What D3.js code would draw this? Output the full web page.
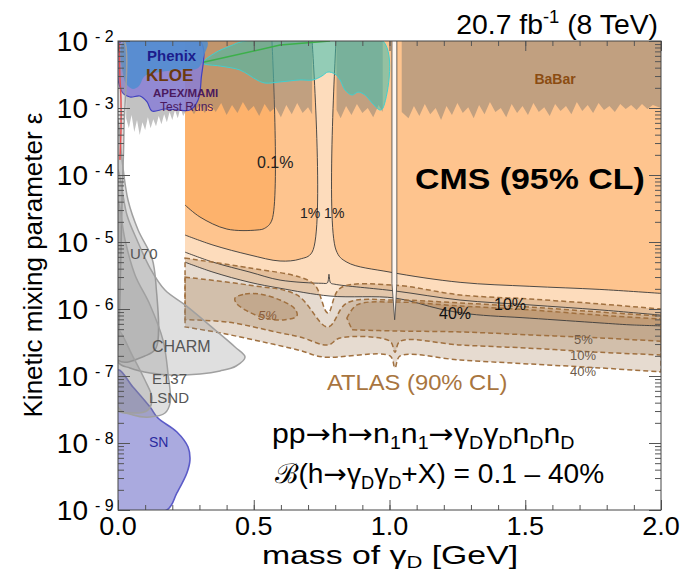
<!DOCTYPE html>
<html>
<head>
<meta charset="utf-8">
<script src="https://cdn.jsdelivr.net/npm/d3@7"></script>
<style>
  body { margin: 0; background: #fff; }
  svg { display: block; font-family: "Liberation Sans", Arial, sans-serif; }
</style>
</head>
<body>
<script>
// Step 1: data (mass of gamma_D in GeV, kinetic mixing epsilon)
//= ================================
var xTickValues = [0, 0.5, 1.0, 1.5, 2.0];
var xTickLabels = ["0.0", "0.5", "1.0", "1.5", "2.0"];
var yTickValues = [1e-2, 1e-3, 1e-4, 1e-5, 1e-6, 1e-7, 1e-8, 1e-9];
var yTickExponents = ["2", "3", "4", "5", "6", "7", "8", "9"];

// CMS solid contours
var cms01Line = [[0.567, 1e-2], [0.567, 2.13e-5], [0.540, 1.6e-5], [0.512, 1.51e-5], [0.401, 1.56e-5], [0.302, 2.36e-5], [0.247, 3.56e-5]];
var cms1LeftLine = [[0.715, 1e-2], [0.715, 7.06e-6], [0.670, 5.56e-6], [0.597, 5.2e-6], [0.486, 6.4e-6], [0.350, 9.0e-6], [0.247, 1.27e-5]];
var cms1RightLine = [[0.803, 1e-2], [0.803, 7.6e-6], [0.843, 5.0e-6], [1.002, 3.55e-6], [1.260, 2.5e-6], [1.517, 2.18e-6], [1.775, 1.96e-6], [2.0, 1.71e-6]];
var cms10Line = [[0.247, 7.06e-6], [0.350, 5.0e-6], [0.486, 3.55e-6], [0.597, 2.7e-6], [0.751, 2.42e-6], [0.771, 2.45e-6], [0.777, 3.3e-6], [0.783, 2.45e-6], [0.799, 2.34e-6], [1.020, 1.86e-6], [1.260, 1.36e-6], [1.517, 1.15e-6], [1.775, 9.7e-7], [2.0, 8.1e-7]];
var cms40Line = [[0.247, 5.0e-6], [0.350, 3.55e-6], [0.486, 2.5e-6], [0.597, 2.04e-6], [0.781, 1.56e-6], [1.020, 1.46e-6], [1.186, 1.0e-6], [1.297, 8.4e-7], [1.517, 7.3e-7], [1.775, 6.2e-7], [1.886, 5.8e-7], [2.0, 5.6e-7]];
var phiGap = [[1.009, 1e-2], [1.009, 2.42e-6], [1.016, 1.0e-6], [1.019, 6.9e-7], [1.022, 1.0e-6], [1.027, 2.42e-6], [1.027, 1e-2]];

// ATLAS dashed bands
var atlas40Upper = [[0.247, 5.76e-6], [0.486, 4.09e-6], [0.670, 2.99e-6], [0.726, 2.26e-6], [0.773, 8.7e-7], [0.818, 2.04e-6], [1.020, 2.26e-6], [1.260, 1.62e-6], [1.517, 1.41e-6], [1.775, 1.19e-6], [2.0, 1.0e-6]];
var atlas40Lower = [[0.247, 5.4e-7], [0.376, 4.4e-7], [0.523, 3.3e-7], [0.670, 2.4e-7], [0.755, 1.92e-7], [1.002, 1.99e-7], [1.020, 1.32e-7], [1.039, 1.99e-7], [1.260, 1.73e-7], [1.517, 1.51e-7], [1.775, 1.32e-7], [2.0, 1.15e-7]];
var atlas10Upper = [[0.247, 2.99e-6], [0.486, 2.26e-6], [0.659, 1.62e-6], [0.773, 5.4e-7], [0.843, 1.23e-6], [1.020, 1.36e-6], [1.260, 1.23e-6], [1.517, 1.07e-6], [1.775, 9.0e-7], [2.0, 7.87e-7]];
var atlas10Lower = [[0.247, 6.9e-7], [0.401, 6.4e-7], [0.597, 4.4e-7], [0.670, 3.83e-7], [0.773, 2.9e-7], [0.818, 3.7e-7], [1.002, 3.3e-7], [1.020, 2.26e-7], [1.039, 3.3e-7], [1.260, 2.9e-7], [1.517, 2.6e-7], [1.775, 2.26e-7], [2.0, 2.06e-7]];
var atlas5Island = [[0.431, 1.46e-6], [0.468, 1.67e-6], [0.523, 1.67e-6], [0.597, 1.36e-6], [0.652, 1.0e-6], [0.659, 7.87e-7], [0.615, 6.9e-7], [0.541, 7.3e-7], [0.468, 9.7e-7], [0.435, 1.23e-6]];
var atlas5Upper = [[0.843, 7.3e-7], [0.880, 1.15e-6], [1.020, 1.27e-6], [1.260, 1.11e-6], [1.517, 9.7e-7], [1.775, 8.1e-7], [2.0, 7.1e-7]];
var atlas5Lower = [[0.862, 4.9e-7], [1.020, 4.7e-7], [1.260, 4.55e-7], [1.517, 4.1e-7], [1.775, 3.7e-7], [2.0, 3.3e-7]];

// BaBar lower edge, three pieces
var babarLow1 = [[0.03, 7.06e-4], [0.04, 5.0e-4], [0.05, 7.85e-4], [0.06, 4.37e-4], [0.07, 6.6e-4], [0.08, 3.96e-4], [0.09, 6.15e-4], [0.10, 4.7e-4], [0.11, 7.3e-4], [0.12, 5.0e-4], [0.13, 6.8e-4], [0.14, 5.36e-4], [0.15, 7.6e-4], [0.16, 5.74e-4], [0.17, 8.1e-4], [0.18, 6.15e-4], [0.19, 8.7e-4], [0.20, 6.6e-4], [0.21, 9.33e-4], [0.22, 7.06e-4], [0.23, 1.0e-3], [0.24, 7.6e-4], [0.26, 1.07e-3], [0.28, 8.1e-4], [0.30, 1.11e-3], [0.32, 8.4e-4], [0.34, 1.15e-3], [0.36, 8.7e-4], [0.38, 1.19e-3], [0.40, 7.85e-4], [0.42, 1.11e-3], [0.44, 8.4e-4], [0.46, 1.23e-3], [0.48, 9.0e-4], [0.50, 1.07e-3], [0.52, 7.6e-4], [0.54, 1.15e-3], [0.56, 8.7e-4], [0.58, 1.03e-3], [0.60, 7.3e-4], [0.62, 1.11e-3], [0.64, 8.1e-4], [0.66, 1.19e-3], [0.68, 8.4e-4], [0.70, 1.03e-3], [0.715, 8.1e-4]];
var babarLow2 = [[0.805, 9.33e-4], [0.82, 7.06e-4], [0.84, 1.07e-3], [0.86, 7.85e-4], [0.88, 1.15e-3], [0.90, 8.4e-4], [0.92, 1.0e-3], [0.94, 7.3e-4], [0.96, 1.11e-3], [0.975, 8.7e-4]];
var babarLow3 = [[1.045, 8.7e-4], [1.07, 7.06e-4], [1.09, 1.07e-3], [1.11, 7.6e-4], [1.13, 1.15e-3], [1.15, 8.1e-4], [1.17, 1.0e-3], [1.19, 6.6e-4], [1.21, 1.07e-3], [1.23, 7.85e-4], [1.25, 1.19e-3], [1.27, 8.4e-4], [1.29, 1.03e-3], [1.31, 7.06e-4], [1.33, 1.11e-3], [1.35, 8.1e-4], [1.37, 1.23e-3], [1.39, 8.7e-4], [1.41, 1.0e-3], [1.43, 7.3e-4], [1.45, 1.15e-3], [1.47, 8.4e-4], [1.49, 1.07e-3], [1.51, 7.85e-4], [1.53, 1.19e-3], [1.55, 8.7e-4], [1.57, 1.03e-3], [1.59, 7.6e-4], [1.61, 1.15e-3], [1.63, 9.0e-4], [1.65, 1.07e-3], [1.67, 8.1e-4], [1.69, 1.23e-3], [1.71, 9.0e-4], [1.73, 1.11e-3], [1.75, 8.4e-4], [1.77, 1.19e-3], [1.79, 9.33e-4], [1.81, 1.07e-3], [1.83, 8.7e-4], [1.85, 1.15e-3], [1.87, 9.66e-4], [1.89, 1.11e-3], [1.91, 9.33e-4], [1.93, 1.15e-3], [1.95, 9.66e-4], [1.97, 1.11e-3], [2.0, 1.0e-3]];

// other experiments
var tealRegion = [[0.313, 4.69e-3], [0.357, 6.62e-3], [0.413, 8.4e-3], [0.468, 1e-2], [0.976, 1e-2], [0.976, 1.0e-3], [0.965, 9.33e-4], [0.936, 1.19e-3], [0.910, 1.56e-3], [0.884, 1.73e-3], [0.862, 1.56e-3], [0.836, 1.86e-3], [0.818, 2.62e-3], [0.799, 3.21e-3], [0.773, 3.44e-3], [0.751, 3.0e-3], [0.718, 2.62e-3], [0.670, 2.62e-3], [0.597, 2.45e-3], [0.541, 2.36e-3], [0.512, 2.62e-3], [0.449, 3.69e-3], [0.376, 4.23e-3]];
var greenLine = [[0.302, 4.69e-3], [0.597, 8.7e-3], [0.781, 1e-2]];
var apexRegion = [[0.011, 1e-2], [0.302, 1e-2], [0.306, 2.62e-3], [0.295, 1.32e-3], [0.265, 9.33e-4], [0.221, 9.33e-4], [0.173, 9.66e-4], [0.125, 9.0e-4], [0.107, 1.23e-3], [0.081, 1.51e-3], [0.044, 1.46e-3], [0.015, 1.73e-3]];
var phenixRegion = [[0.022, 1e-2], [0.022, 2.8e-3], [0.033, 2.2e-3], [0.055, 1.92e-3], [0.077, 2.13e-3], [0.099, 3.0e-3], [0.155, 3.44e-3], [0.228, 3.69e-3], [0.295, 3.95e-3], [0.317, 6.18e-3], [0.328, 1e-2]];
var redLine = [[0.004, 9.3e-3], [0.007, 3.0e-3], [0.011, 1.32e-3], [0.011, 4.7e-4], [0.007, 1.68e-4]];

var snRegion = [[0, 1.23e-7], [0.055, 6.86e-8], [0.118, 3.44e-8], [0.147, 2.36e-8], [0.217, 1.46e-8], [0.258, 8.7e-9], [0.265, 5.6e-9], [0.254, 3.6e-9], [0.217, 1.8e-9], [0.180, 1e-9], [0, 1e-9]];
var stripRegion = [[0, 1e-2], [0.022, 1e-2], [0.022, 4.7e-4], [0.015, 4.2e-5], [0.007, 1.36e-6], [0, 2.4e-7]];
var u70Region = [[0, 6.6e-4], [0.015, 1.68e-4], [0.037, 4.2e-5], [0.074, 1.51e-5], [0.125, 5.76e-6], [0.140, 2.26e-6], [0.140, 2.6e-7], [0.099, 1.99e-7], [0, 1.73e-7]];
var charmRegion = [[0, 1.19e-4], [0.033, 2.53e-5], [0.070, 1.07e-5], [0.118, 4.09e-6], [0.173, 1.92e-6], [0.247, 1.15e-6], [0.357, 4.9e-7], [0.431, 2.71e-7], [0.468, 1.92e-7], [0.435, 1.41e-7], [0.376, 1.19e-7], [0.302, 1.07e-7], [0.210, 1.03e-7], [0.118, 1.11e-7], [0.044, 1.32e-7], [0, 1.62e-7]];
var e137Region = [[0, 4.2e-5], [0.026, 1.07e-5], [0.063, 3.2e-6], [0.118, 1.15e-6], [0.166, 3.4e-7], [0.184, 1.11e-7], [0.192, 3.96e-8], [0.173, 2.8e-8], [0.118, 2.44e-8], [0.055, 2.62e-8], [0, 3.44e-8]];
var lsndRegion = [[0, 4.9e-7], [0.052, 2.06e-7], [0.099, 8.7e-8], [0.125, 4.7e-8], [0.110, 3.1e-8], [0.044, 2.8e-8], [0, 3.1e-8]];

// Step 2: set up our chart
//= ================================
var svgWidth = 684;
var svgHeight = 573;
var margin = { top: 41, right: 23, bottom: 63, left: 118 };
var chartWidth = svgWidth - margin.left - margin.right;
var chartHeight = svgHeight - margin.top - margin.bottom;

var svg = d3.select("body").append("svg")
    .attr("width", svgWidth)
    .attr("height", svgHeight);

svg.append("defs").append("clipPath").attr("id", "plotclip")
    .append("rect").attr("width", chartWidth).attr("height", chartHeight);

var chartGroup = svg.append("g")
    .attr("transform", `translate(${margin.left}, ${margin.top})`);
var plot = chartGroup.append("g").attr("clip-path", "url(#plotclip)");

var xScale = d3.scaleLinear().domain([0, 2]).range([0, chartWidth]);
var yScale = d3.scaleLog().domain([1e-9, 1e-2]).range([chartHeight, 0]);

var smooth = d3.line().x(d => xScale(d[0])).y(d => yScale(d[1])).curve(d3.curveCatmullRom.alpha(0.5));
var straight = d3.line().x(d => xScale(d[0])).y(d => yScale(d[1]));
var closedSmooth = d3.line().x(d => xScale(d[0])).y(d => yScale(d[1])).curve(d3.curveCatmullRomClosed.alpha(0.5));

function cont(path) { return "L" + path.slice(1); }
function region(line, corners) { return smooth(line) + cont(straight(corners)) + "Z"; }
function band(upper, lower) { return smooth(upper) + cont(smooth(lower.slice().reverse())) + "Z"; }

// Step 3: CMS regions
//= ================================
var epsTop = 1e-2;
plot.append("path").attr("d", region(cms40Line, [[2, epsTop], [0.247, epsTop]])).attr("fill", "#fce6d0");
plot.append("path").attr("d", region(cms10Line, [[2, epsTop], [0.247, epsTop]])).attr("fill", "#fddcbc");
plot.append("path").attr("d", region(cms1LeftLine, [[0.247, epsTop]])).attr("fill", "#fec48e");
plot.append("path").attr("d", region(cms1RightLine, [[2, epsTop]])).attr("fill", "#fec48e");
plot.append("path").attr("d", region(cms01Line, [[0.247, epsTop]])).attr("fill", "#fdb26c");

// ATLAS bands
var atlasShapes = [band(atlas40Upper, atlas40Lower), band(atlas10Upper, atlas10Lower),
    band(atlas5Upper, atlas5Lower), closedSmooth(atlas5Island)];
atlasShapes.forEach(function (d) {
    plot.append("path").attr("d", d).attr("fill", "rgb(140,90,40)").attr("fill-opacity", 0.22);
});

// CMS contour lines
[cms01Line, cms1LeftLine, cms1RightLine, cms10Line, cms40Line].forEach(function (l) {
    plot.append("path").attr("d", smooth(l)).attr("fill", "none")
        .attr("stroke", "#3a3a3a").attr("stroke-width", 0.9);
});

// ATLAS dashed outlines
atlasShapes.forEach(function (d) {
    plot.append("path").attr("d", d).attr("fill", "none")
        .attr("stroke", "#a0703f").attr("stroke-width", 1.5)
        .attr("stroke-dasharray", "5,3");
});

// phi resonance gap
plot.append("path").attr("d", straight(phiGap)).attr("fill", "#fff6ee")
    .attr("stroke", "#444").attr("stroke-width", 0.8);

// Step 4: other experiments
//= ================================
[[babarLow1, 0.03, 0.715], [babarLow2, 0.805, 0.975], [babarLow3, 1.045, 2.0]].forEach(function (p) {
    var d = straight(p[0]) + cont(straight([[p[2], epsTop], [p[1], epsTop]])) + "Z";
    plot.append("path").attr("d", d).attr("fill", "#6e6e6e").attr("fill-opacity", 0.42);
});

plot.append("path").attr("d", closedSmooth(tealRegion))
    .attr("fill", "#3cc0b0").attr("fill-opacity", 0.55)
    .attr("stroke", "#40d0d0").attr("stroke-width", 1);
plot.append("path").attr("d", straight(greenLine)).attr("fill", "none")
    .attr("stroke", "#3cb04a").attr("stroke-width", 1.5);

plot.append("path").attr("d", closedSmooth(apexRegion))
    .attr("fill", "#8a7fd6").attr("fill-opacity", 0.85)
    .attr("stroke", "#4040c0").attr("stroke-width", 1.2);
plot.append("path").attr("d", closedSmooth(phenixRegion))
    .attr("fill", "#4f8ed0").attr("fill-opacity", 0.85);

plot.append("path").attr("d", closedSmooth(snRegion))
    .attr("fill", "#aaaadf").attr("stroke", "#5b5bc8").attr("stroke-width", 1.6);

[stripRegion, u70Region, charmRegion, e137Region, lsndRegion].forEach(function (r) {
    plot.append("path").attr("d", closedSmooth(r))
        .attr("fill", "#8c8c8c").attr("fill-opacity", 0.28)
        .attr("stroke", "#a0a0a0").attr("stroke-width", 1.5);
});

plot.append("path").attr("d", smooth(redLine)).attr("fill", "none")
    .attr("stroke", "#e05050").attr("stroke-width", 1.5);

// Step 5: axes and frame
//= ================================
function ticks(axis, values, size, transform) {
    var g = chartGroup.append("g").attr("transform", transform || null)
        .call(axis.tickValues(values).tickSize(-size).tickFormat(""));
    g.select(".domain").remove();
    g.selectAll("line").attr("stroke", "#555");
}
var xMinor = xScale.ticks(20);
var yMinor = yScale.ticks();
ticks(d3.axisBottom(xScale), xMinor, 5, `translate(0, ${chartHeight})`);
ticks(d3.axisBottom(xScale), xTickValues, 10, `translate(0, ${chartHeight})`);
ticks(d3.axisTop(xScale), xMinor, 5);
ticks(d3.axisTop(xScale), xTickValues, 10);
ticks(d3.axisLeft(yScale), yMinor, 6);
ticks(d3.axisLeft(yScale), yTickValues, 12);
ticks(d3.axisRight(yScale), yMinor, 6, `translate(${chartWidth}, 0)`);
ticks(d3.axisRight(yScale), yTickValues, 12, `translate(${chartWidth}, 0)`);

chartGroup.append("rect").attr("width", chartWidth).attr("height", chartHeight)
    .attr("fill", "none").attr("stroke", "#444").attr("stroke-width", 1);

// Step 6: text
//= ================================
// text drawn at (px, py), optionally stretched horizontally by sx
function rich(parent, px, py, size, parts, anchor, sx, subShift) {
    var t = parent.append("text")
        .attr("transform", `translate(${px}, ${py}) scale(${sx || 1}, 1)`)
        .attr("text-anchor", anchor || "start").style("font-size", size + "px");
    var shift = 0;
    parts.forEach(function (p) {
        var target = p[1] === "sub" ? size * (subShift || 0.22) : p[1] === "sup" ? -size * 0.4 : 0;
        var ts = t.append("tspan").attr("dy", target - shift)
            .style("font-size", (p[1] === "sub" || p[1] === "sup" ? size * 0.65 : size) + "px")
            .text(p[0]);
        if (p[1] === "arrow") ts.style("font-family", "'DejaVu Sans'");
        shift = target;
    });
    return t;
}
function label(txt, px, py, size, color, opts) {
    opts = opts || {};
    return svg.append("text")
        .attr("transform", `translate(${px}, ${py}) scale(${opts.sx || 1}, 1)`)
        .attr("text-anchor", opts.anchor || "start")
        .style("font-size", size + "px")
        .style("font-weight", opts.bold ? "bold" : "normal")
        .style("font-style", opts.italic ? "italic" : "normal")
        .attr("fill", color).text(txt);
}

xTickValues.forEach(function (v, i) {
    label(xTickLabels[i], margin.left + xScale(v), 535, 25, "#000", { anchor: "middle", sx: 1.08 });
});
yTickValues.forEach(function (v, i) {
    var yy = margin.top + yScale(v);
    label("10", 88, yy + 10, 28, "#000", { anchor: "end" });
    label("- " + yTickExponents[i], 95, yy + 1, 16, "#000");
});

rich(svg, 390, 564, 26, [["mass of \u03b3"], ["D", "sub"], [" [GeV]"]], "middle", 1.3, 0.16);
svg.append("text")
    .attr("transform", "translate(42, 265) rotate(-90)")
    .attr("text-anchor", "middle").style("font-size", "26px")
    .text("Kinetic mixing parameter \u03b5");
rich(svg, 658, 34, 27, [["20.7 fb"], ["-1", "sup"], [" (8 TeV)"]], "end", 1.05);

label("Phenix", 147, 61, 15, "#1c1c8c", { bold: true });
label("KLOE", 146, 81, 17, "#6b3a0e", { bold: true });
label("APEX/MAMI", 153, 97, 11.5, "#4b1a5e", { bold: true });
label("Test Runs", 160, 111, 12, "#4b1a5e");
label("BaBar", 555, 84, 14, "#8b4c12", { bold: true, anchor: "middle" });

label("0.1%", 257, 168, 16, "#222");
label("1% 1%", 300, 218, 14, "#222");
label("CMS (95% CL)", 415, 189, 30, "#000", { bold: true, sx: 1.13 });
label("10%", 494, 310, 16, "#111");
label("40%", 439, 319, 16, "#111");

label("5%", 258, 320, 13, "#8a5c3a", { italic: true });
label("5%", 574, 344, 13, "#6d5a4a");
label("10%", 570, 360, 13, "#6d5a4a");
label("40%", 570, 376, 13, "#6d5a4a");
label("ATLAS (90% CL)", 327, 390, 22, "#a87540", { sx: 1.08 });

label("U70", 130, 259, 15, "#555");
label("CHARM", 152, 352, 16, "#555");
label("E137", 152, 384, 15, "#555");
label("LSND", 149, 403, 15, "#555");
label("SN", 149, 447, 14, "#2a2aa0");

var arrow = ["\u2192", "arrow"];
rich(svg, 272, 443, 27, [["pp"], arrow, ["h"], arrow, ["n"], ["1", "sub"], ["n"], ["1", "sub"], arrow, ["\u03b3"], ["D", "sub"], ["\u03b3"], ["D", "sub"], ["n"], ["D", "sub"], ["n"], ["D", "sub"]], "start", 1.12);
rich(svg, 275, 483, 27, [["\u212c(h"], arrow, ["\u03b3"], ["D", "sub"], ["\u03b3"], ["D", "sub"], ["+X) = 0.1 \u2013 40%"]], "start", 1.04);
</script>
</body>
</html>
